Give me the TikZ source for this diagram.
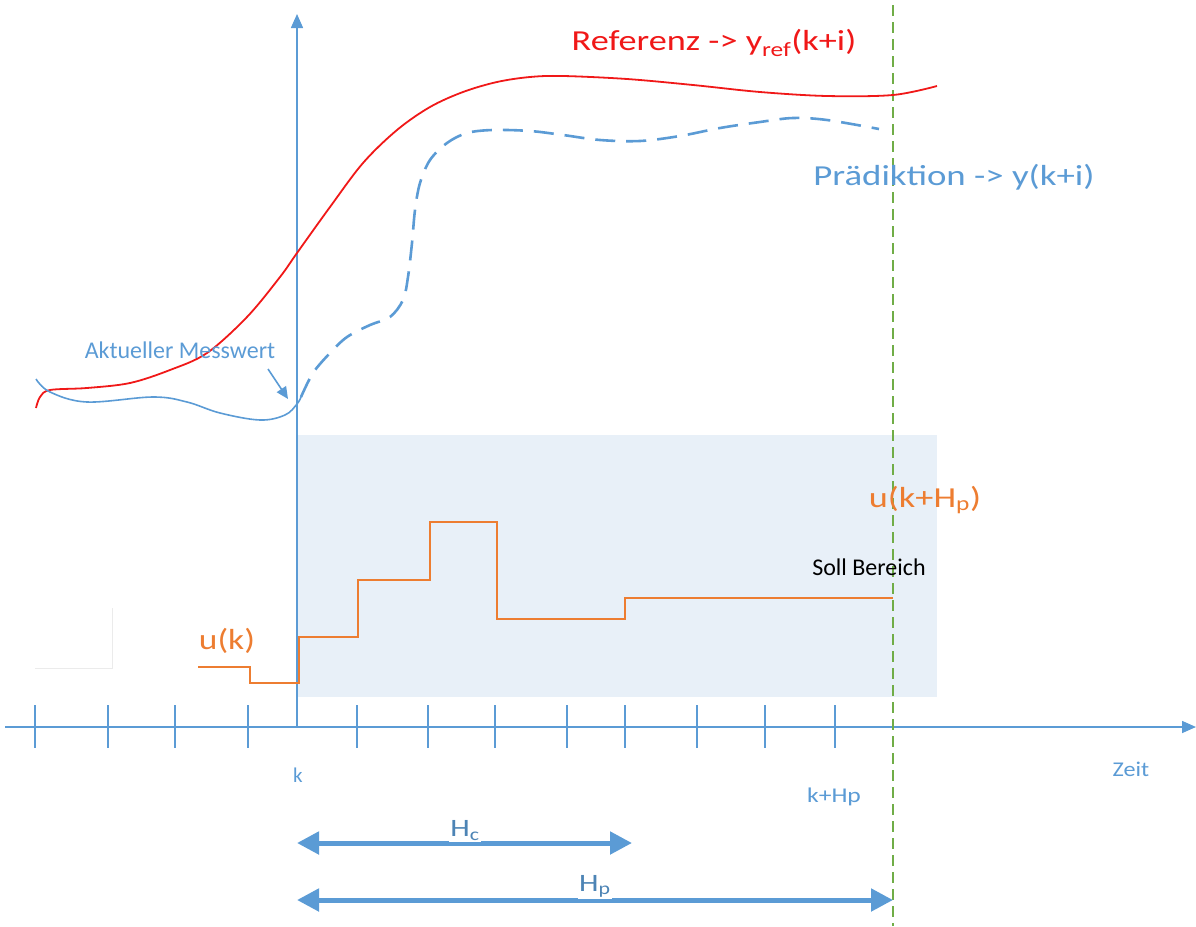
\documentclass[tikz,border=0pt]{standalone}
\usepackage{fontspec}
\usepackage{graphicx}
\setmainfont{Carlito}
\usetikzlibrary{arrows.meta}
\definecolor{cblue}{HTML}{5B9BD5}
\definecolor{corange}{HTML}{ED7D31}
\definecolor{cgreen}{HTML}{70AD47}
\definecolor{cred}{HTML}{F01818}
\definecolor{cfill}{HTML}{E8F0F8}
\newcommand{\hstretch}[2]{\scalebox{#1}[1]{#2}}
\tikzset{
  axisline/.style={cblue, line width=1.5pt},
  tickline/.style={cblue, line width=1.5pt},
  bigtext/.style={font=\fontsize{29}{31}\selectfont, inner sep=0pt},
  midtext/.style={font=\fontsize{24}{26}\selectfont, inner sep=0pt},
  smalltext/.style={font=\fontsize{21}{23}\selectfont, inner sep=0pt},
  horizon/.style={cblue, line width=5pt, {Triangle[length=22pt,width=22pt]}-{Triangle[length=22pt,width=22pt]}},
  hlabel/.style={font=\fontsize{25}{27}\selectfont, text=cblue!85!black, fill=white, inner xsep=1pt, inner ysep=1pt},
}
\begin{document}
\begin{tikzpicture}[x=1pt,y=-1pt]
\useasboundingbox (0,0) rectangle (1196,926);
% soll bereich
\fill[cfill] (297,435) rectangle (937,697);
% faint box left
\draw[black!8, line width=0.8pt] (35,668) -- (112,668) -- (112,608);
% time axis
\coordinate (tstart) at (5,727);
\coordinate (tend) at (1196,727);
\draw[axisline, -{Triangle[length=14pt,width=12pt]}] (tstart) -- (tend);
% vertical axis
\coordinate (vbot) at (297,727);
\coordinate (vtop) at (297,14);
\draw[axisline, -{Triangle[length=14pt,width=12pt]}] (vbot) -- (vtop);
% ticks
\foreach \x in {35,108,175,248,357,428,495,567,625,697,765,835}{
  \draw[tickline] (\x,705) -- (\x,748);
}
% green dashed
\coordinate (gtop) at (893,5);
\coordinate (gbot) at (893,926);
\draw[cgreen, line width=1.6pt, dash pattern=on 11pt off 6pt] (gtop) -- (gbot);
% reference curve
\draw[cred, line width=1.8pt] plot[smooth, tension=0.55] coordinates {(36,408) (40,397) (50,390) (87,388) (130,383) (170,370) (207,353) (247,317) (280,277) (297,253) (330,207) (363,163) (397,130) (430,107) (463,92) (497,82) (530,77) (563,76) (627,79) (693,85) (760,92) (827,96) (893,95) (937,86)};
% measured curve
\draw[cblue, line width=1.6pt] plot[smooth, tension=0.6] coordinates {(36,379) (50,392) (87,402) (153,397) (187,402) (220,413) (260,420) (285,415) (297,404) (301,397)};
% prediction dashed
\draw[cblue, line width=2.6pt, dash pattern=on 20pt off 11pt] plot[smooth, tension=0.55] coordinates {(301,397) (313,373) (330,353) (347,337) (370,325) (390,317) (403,300) (408,277) (412,243) (415,210) (420,183) (430,160) (447,143) (467,133) (493,130) (530,131) (563,135) (600,140) (640,141) (680,136) (720,128) (760,122) (793,118) (827,120) (879,129)};
% Aktueller Messwert arrow
\node[midtext, text=cblue, anchor=center] (mess) at (180,350) {Aktueller Messwert};
\coordinate (astart) at (268,369);
\coordinate (aend) at (288,399);
\draw[cblue, line width=1.6pt, -{Triangle[length=12pt,width=11pt]}] (astart) -- (aend);
% control signal
\draw[corange, line width=1.5pt] (198,667) -- (250,667) -- (250,683) -- (299,683) -- (299,637) -- (358,637) -- (358,580) -- (430,580) -- (430,522) -- (497,522) -- (497,619) -- (625,619) -- (625,598) -- (893,598);
% labels
\node[bigtext, text=cred, anchor=center] (ref) at (714,43) {\hstretch{1.25}{Referenz -> y\textsubscript{ref}(k+i)}};
\node[bigtext, text=cblue, anchor=center] (pred) at (954,177) {\hstretch{1.27}{Prädiktion -> y(k+i)}};
\node[bigtext, text=corange, anchor=center] (uk) at (227,641) {\hstretch{1.22}{u(k)}};
\node[bigtext, text=corange, anchor=center] (ukhp) at (925,500) {\hstretch{1.25}{u(k+H\textsubscript{p})}};
\node[midtext, text=black, anchor=center] (soll) at (869,567) {Soll Bereich};
\node[smalltext, text=cblue, anchor=center] (klab) at (298,775) {k};
\node[smalltext, text=cblue, anchor=center] (khp) at (834,797) {\hstretch{1.22}{k+Hp}};
\node[smalltext, text=cblue, anchor=center] (zeit) at (1131,769) {\hstretch{1.15}{Zeit}};
% horizons
\coordinate (hcl) at (297,843);
\coordinate (hcr) at (632,843);
\coordinate (hpl) at (297,900);
\coordinate (hpr) at (893,900);
\draw[horizon] (hcl) -- (hcr);
\draw[horizon] (hpl) -- (hpr);
\node[hlabel, anchor=south] (hc) at (465,842) {\hstretch{1.25}{H\textsubscript{c}}};
\node[hlabel, anchor=south] (hp) at (595,899) {\hstretch{1.25}{H\textsubscript{p}}};
\end{tikzpicture}
\end{document}
